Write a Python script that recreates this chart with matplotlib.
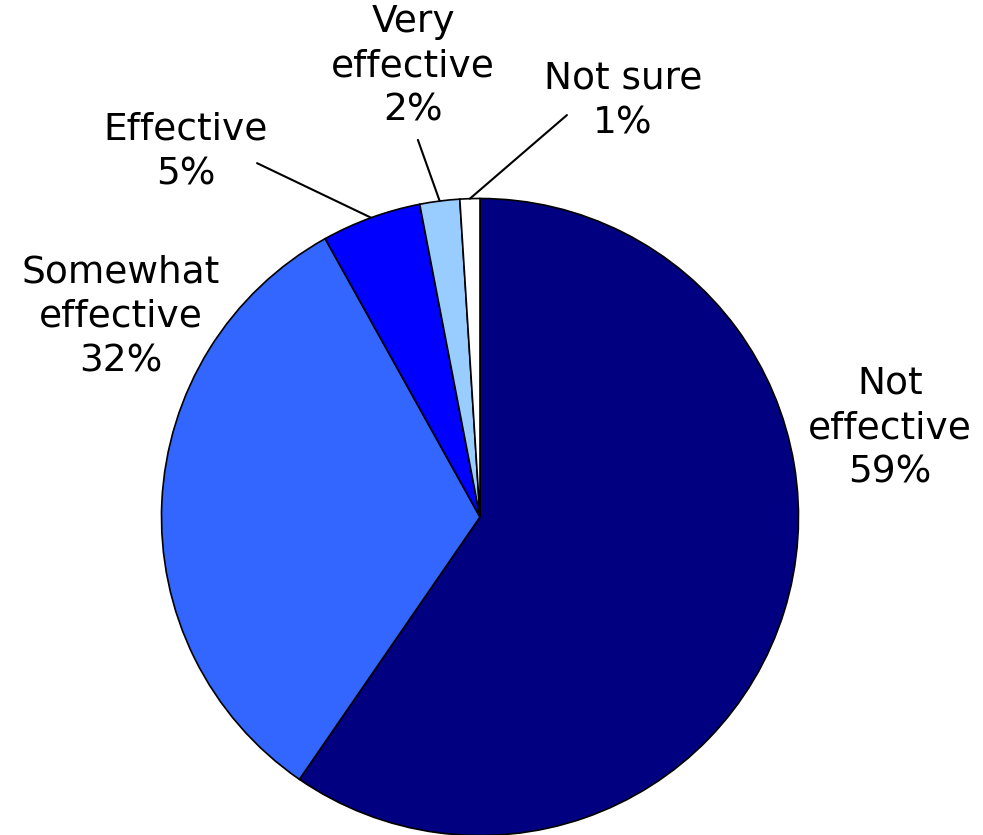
import numpy as np
import matplotlib
matplotlib.use("Agg")
import matplotlib.pyplot as plt

labels = ["Not\neffective", "Somewhat\neffective", "Effective", "Very\neffective", "Not sure"]
values = [59, 32, 5, 2, 1]
colors = ["#000080", "#3366FF", "#0000FF", "#99CCFF", "#FFFFFF"]

# label centres and leader-line starts, in pie radius units
label_pos = [(1.287, 0.279), (-1.127, 0.628), (-0.923, 1.146), (-0.21, 1.416), (0.449, 1.306)]
leader_start = [None, None, (-0.700, 1.111), (-0.195, 1.184), (0.273, 1.262)]

W, H = 983, 835
fig = plt.figure(figsize=(W / 100, H / 100), dpi=100)
cx, cy, r = 480.0, 517.0, 318.5
ax = fig.add_axes([(cx - r) / W, (H - cy - r) / H, 2 * r / W, 2 * r / H])

wedges, _ = ax.pie(values, colors=colors, startangle=90, counterclock=False, radius=1,
                   wedgeprops=dict(edgecolor="black", linewidth=1.2))
ax.set_xlim(-1, 1)
ax.set_ylim(-1, 1)
ax.set_aspect("equal")
ax.axis("off")

for w, lab, v, pos, start in zip(wedges, labels, values, label_pos, leader_start):
    ax.text(pos[0], pos[1], f"{lab}\n{v}%", ha="center", va="center",
            fontsize=27, family="DejaVu Sans", linespacing=1.3, clip_on=False)
    if start is not None:
        mid = np.deg2rad((w.theta1 + w.theta2) / 2)
        ax.annotate("", xy=(np.cos(mid), np.sin(mid)), xytext=start,
                    arrowprops=dict(arrowstyle="-", color="black", lw=1.5,
                                    shrinkA=0, shrinkB=0),
                    annotation_clip=False)

fig.savefig("out.png", dpi=100)
